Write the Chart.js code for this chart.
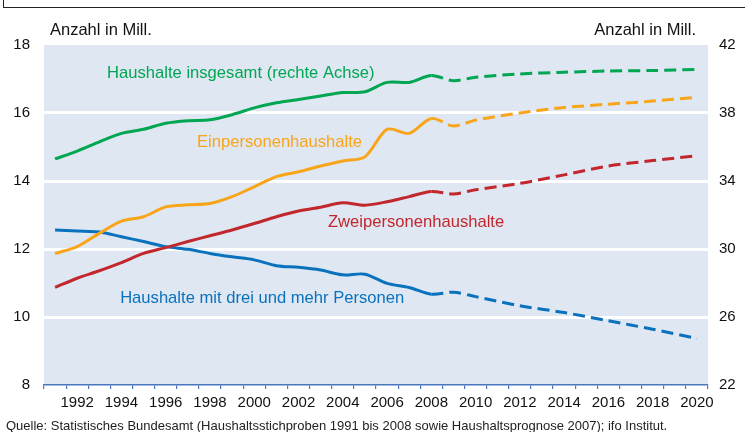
<!DOCTYPE html>
<html lang="de">
<head>
<meta charset="utf-8">
<title>Haushalte in Deutschland</title>
<script src="https://cdn.jsdelivr.net/npm/chart.js@4/dist/chart.umd.min.js"></script>
<style>
  html, body { margin: 0; padding: 0; background: #fff; }
  body { width: 745px; height: 432px; position: relative; overflow: hidden; font-family: "Liberation Sans", Arial, sans-serif; }
  #frame { position: absolute; left: 3px; top: 0; width: 742px; height: 7px; border-left: 1px solid #222; border-bottom: 1.5px solid #222; }
  #chartBox { position: absolute; left: 0; top: 0; width: 745px; height: 432px; }
  .axisTitle { position: absolute; top: 20px; font-size: 16.5px; color: #111; }
  #source { position: absolute; left: 6px; top: 418px; font-size: 13px; color: #222; white-space: nowrap; }
</style>
</head>
<body>
<div id="frame"></div>
<div id="chartBox"><canvas id="chart" width="745" height="432"></canvas></div>
<div class="axisTitle" style="left:50px">Anzahl in Mill.</div>
<div class="axisTitle" style="right:49px">Anzahl in Mill.</div>
<div id="source">Quelle: Statistisches Bundesamt (Haushaltsstichproben 1991 bis 2008 sowie Haushaltsprognose 2007); ifo Institut.</div>
<script>
const years = [];
for (let y = 1991; y <= 2020; y++) years.push(String(y));

// Haushalte insgesamt (right axis)
const totalHouseholds = [35.3, 35.76, 36.3, 36.8, 37.04, 37.4, 37.55, 37.6, 37.9, 38.3,
  38.6, 38.8, 39.0, 39.2, 39.25, 39.8, 39.8, 40.2, 39.9, 40.1,
  null, 40.3, null, 40.4, null, 40.47, null, 40.5, null, 40.57];

// Einpersonenhaushalte (left axis)
const onePerson = [11.87, 12.07, 12.46, 12.82, 12.95, 13.24, 13.3, 13.34, 13.54, 13.83,
  14.13, 14.27, 14.44, 14.59, 14.71, 15.52, 15.4, 15.84, 15.62, 15.79,
  null, 16.0, null, 16.16, null, 16.26, null, 16.35, null, 16.46];

// Zweipersonenhaushalte (left axis)
const twoPerson = [10.87, 11.14, 11.36, 11.6, 11.87, 12.04, 12.22, 12.39, 12.56, 12.75,
  12.95, 13.12, 13.23, 13.36, 13.29, 13.39, 13.54, 13.69, 13.62, 13.74,
  null, 13.93, null, 14.18, null, 14.44, null, 14.6, null, 14.74];

// Haushalte mit drei und mehr Personen (left axis)
const threePlus = [12.56, 12.53, 12.5, 12.36, 12.22, 12.07, 11.99, 11.87, 11.77, 11.68,
  11.51, 11.46, 11.38, 11.24, 11.26, 10.99, 10.87, 10.67, 10.73, 10.6,
  null, 10.33, null, 10.13, null, 9.89, null, 9.64, null, 9.37];

const leftTicks = [8, 10, 12, 14, 16, 18];
const rightTicks = [22, 26, 30, 34, 38, 42];
const lastObserved = 17; // index of 2008

const GREEN = '#00a651';
const ORANGE = '#f9a51a';
const RED = '#c1272d';
const BLUE = '#0a72bd';

// series captions, placed in data units (x = year index, y = left axis value)
const captions = [
  { text: 'Haushalte insgesamt (rechte Achse)', x: 2.35, y: 17.15, color: GREEN },
  { text: 'Einpersonenhaushalte', x: 6.41, y: 15.12, color: ORANGE },
  { text: 'Zweipersonenhaushalte', x: 12.33, y: 12.79, color: RED },
  { text: 'Haushalte mit drei und mehr Personen', x: 2.94, y: 10.56, color: BLUE }
];

const dashAfter = ctx => ctx.p0DataIndex >= lastObserved ? [12, 6] : undefined;

function series(label, data, color, axis) {
  return {
    label, data, yAxisID: axis,
    borderColor: color, backgroundColor: color,
    borderWidth: 3, pointRadius: 0, tension: 0.3,
    spanGaps: true, fill: false,
    segment: { borderDash: dashAfter }
  };
}

const plotBackground = {
  id: 'plotBackground',
  beforeDraw(chart) {
    const { ctx, chartArea: a } = chart;
    ctx.save();
    ctx.fillStyle = '#dfe7f3';
    ctx.fillRect(a.left, a.top, a.right - a.left, a.bottom - a.top);
    ctx.restore();
  }
};

const captionPlugin = {
  id: 'captions',
  afterDatasetsDraw(chart) {
    const { ctx, scales } = chart;
    ctx.save();
    ctx.font = '16.6px "Liberation Sans", Arial, sans-serif';
    ctx.textBaseline = 'middle';
    ctx.textAlign = 'left';
    captions.forEach(c => {
      ctx.fillStyle = c.color;
      ctx.fillText(c.text, scales.x.getPixelForValue(c.x), scales.yL.getPixelForValue(c.y));
    });
    ctx.restore();
  }
};

const tickFont = { family: '"Liberation Sans", Arial, sans-serif', size: 15 };

new Chart(document.getElementById('chart'), {
  type: 'line',
  data: {
    labels: years,
    datasets: [
      series('Haushalte insgesamt', totalHouseholds, GREEN, 'yR'),
      series('Einpersonenhaushalte', onePerson, ORANGE, 'yL'),
      series('Zweipersonenhaushalte', twoPerson, RED, 'yL'),
      series('Haushalte mit drei und mehr Personen', threePlus, BLUE, 'yL')
    ]
  },
  options: {
    responsive: false,
    animation: false,
    layout: { padding: { top: 45, left: 0, right: 0, bottom: 0 } },
    plugins: { legend: { display: false }, tooltip: { enabled: false } },
    scales: {
      x: {
        type: 'category',
        offset: true,
        afterFit: s => { s.height = 47; },
        border: { color: '#4a78bf', width: 1.5 },
        grid: { offset: true, drawOnChartArea: false, drawTicks: true, tickLength: 4, color: '#4a78bf', lineWidth: 1.2 },
        ticks: {
          autoSkip: false, maxRotation: 0, padding: 5, color: '#111', font: tickFont,
          callback: function (v, i) { return (1991 + i) % 2 === 0 ? this.getLabelForValue(v) : ''; }
        }
      },
      yL: {
        position: 'left',
        min: leftTicks[0], max: leftTicks[leftTicks.length - 1],
        afterFit: s => { s.width = 44; },
        afterBuildTicks: s => { s.ticks = leftTicks.map(v => ({ value: v })); },
        border: { display: false },
        grid: {
          drawTicks: false, lineWidth: 3,
          color: c => (c.tick.value === 8 || c.tick.value === 18) ? 'rgba(0,0,0,0)' : '#ffffff'
        },
        ticks: { padding: 14, color: '#111', font: tickFont }
      },
      yR: {
        position: 'right',
        min: rightTicks[0], max: rightTicks[rightTicks.length - 1],
        afterFit: s => { s.width = 37; },
        afterBuildTicks: s => { s.ticks = rightTicks.map(v => ({ value: v })); },
        border: { display: false },
        grid: { display: false, drawTicks: false },
        ticks: { padding: 11, color: '#111', font: tickFont }
      }
    }
  },
  plugins: [plotBackground, captionPlugin]
});
</script>
</body>
</html>
